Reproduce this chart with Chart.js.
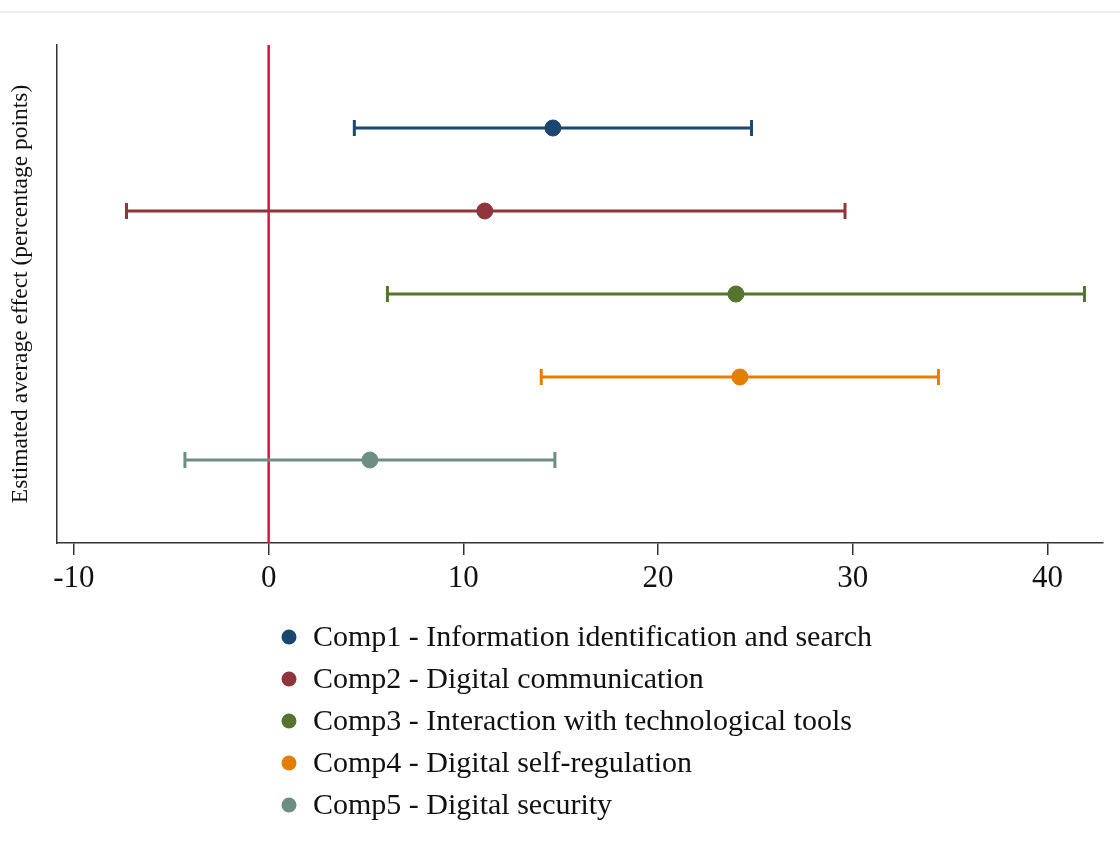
<!DOCTYPE html>
<html>
<head>
<meta charset="utf-8">
<script src="https://cdn.jsdelivr.net/npm/chart.js@4.4.1/dist/chart.umd.min.js"></script>
<style>
  html, body { margin: 0; padding: 0; background: #fff; }
  #wrap { position: relative; width: 1120px; height: 864px; }
</style>
</head>
<body>
<div id="wrap"><canvas id="c"></canvas></div>
<script>
const components = [
  'Comp1 - Information identification and search',
  'Comp2 - Digital communication',
  'Comp3 - Interaction with technological tools',
  'Comp4 - Digital self-regulation',
  'Comp5 - Digital security'
];
const estimates = [14.6, 11.1, 24.0, 24.2, 5.2];
const ciLow = [4.4, -7.3, 6.1, 14.0, -4.3];
const ciHigh = [24.8, 29.6, 41.9, 34.4, 14.7];
const rows = [1, 2, 3, 4, 5];
const colors = ['#1a476f', '#90353b', '#55752f', '#e37e00', '#6e8e84'];
const xTicks = [-10, 0, 10, 20, 30, 40];
const refValue = 0;

const serif = "'Liberation Serif', 'Times New Roman', serif";

const datasets = [];
// vertical reference line at zero, drawn under everything
datasets.push({
  type: 'line',
  label: 'ref',
  data: [{ x: refValue, y: 0 }, { x: refValue, y: 6 }],
  borderColor: '#dc1445',
  borderWidth: 2.5,
  pointRadius: 0,
  order: 10
});
components.forEach((name, i) => {
  // confidence interval with caps
  datasets.push({
    type: 'line',
    label: name + ' CI',
    data: [{ x: ciLow[i], y: rows[i] }, { x: ciHigh[i], y: rows[i] }],
    borderColor: colors[i],
    borderWidth: 3,
    pointStyle: 'line',
    rotation: 90,
    pointRadius: 8,
    pointBorderColor: colors[i],
    pointBorderWidth: 3,
    order: 5
  });
  datasets.push({
    type: 'scatter',
    label: name,
    data: [{ x: estimates[i], y: rows[i] }],
    backgroundColor: colors[i],
    borderColor: colors[i],
    pointRadius: 8,
    order: 1
  });
});

// legend drawn as a single column under the plot
const columnLegend = {
  id: 'columnLegend',
  beforeDraw(chart) {
    const ctx = chart.ctx;
    ctx.save();
    ctx.fillStyle = '#ececec';
    ctx.fillRect(0, 11, chart.width, 2);
    ctx.restore();
  },
  afterDraw(chart) {
    const ctx = chart.ctx;
    ctx.save();
    ctx.font = '30px ' + serif;
    ctx.textBaseline = 'middle';
    components.forEach((name, i) => {
      const y = 637 + i * 42;
      ctx.fillStyle = colors[i];
      ctx.beginPath();
      ctx.arc(289, y, 7.5, 0, Math.PI * 2);
      ctx.fill();
      ctx.fillStyle = '#111';
      ctx.fillText(name, 313, y + 1);
    });
    ctx.restore();
  }
};

new Chart(document.getElementById('c'), {
  type: 'scatter',
  data: { datasets },
  options: {
    responsive: true,
    maintainAspectRatio: false,
    animation: false,
    layout: { padding: { top: 45, right: 17, left: 0, bottom: 0 } },
    plugins: {
      legend: { display: false },
      tooltip: { enabled: false }
    },
    scales: {
      x: {
        type: 'linear',
        min: -10.87,
        max: 42.85,
        afterBuildTicks: (scale) => { scale.ticks = xTicks.map(v => ({ value: v })); },
        afterFit: (scale) => { scale.height = 864 - 45 - 498; },
        border: { display: true, color: '#333', width: 1.5 },
        grid: { display: true, drawOnChartArea: false, drawTicks: true, tickLength: 12, color: '#333', lineWidth: 1.5 },
        ticks: {
          color: '#111',
          padding: 5,
          maxRotation: 0,
          font: { family: serif, size: 31 }
        }
      },
      y: {
        type: 'linear',
        min: 0,
        max: 6,
        reverse: true,
        afterFit: (scale) => { scale.width = 57; },
        border: { display: true, color: '#333', width: 1.5 },
        grid: { display: true, drawOnChartArea: false, drawTicks: false },
        ticks: { display: false },
        title: {
          display: true,
          text: 'Estimated average effect (percentage points)',
          color: '#111',
          font: { family: serif, size: 23.5 },
          padding: { top: 7, bottom: 0 }
        }
      }
    }
  },
  plugins: [columnLegend]
});
</script>
</body>
</html>
